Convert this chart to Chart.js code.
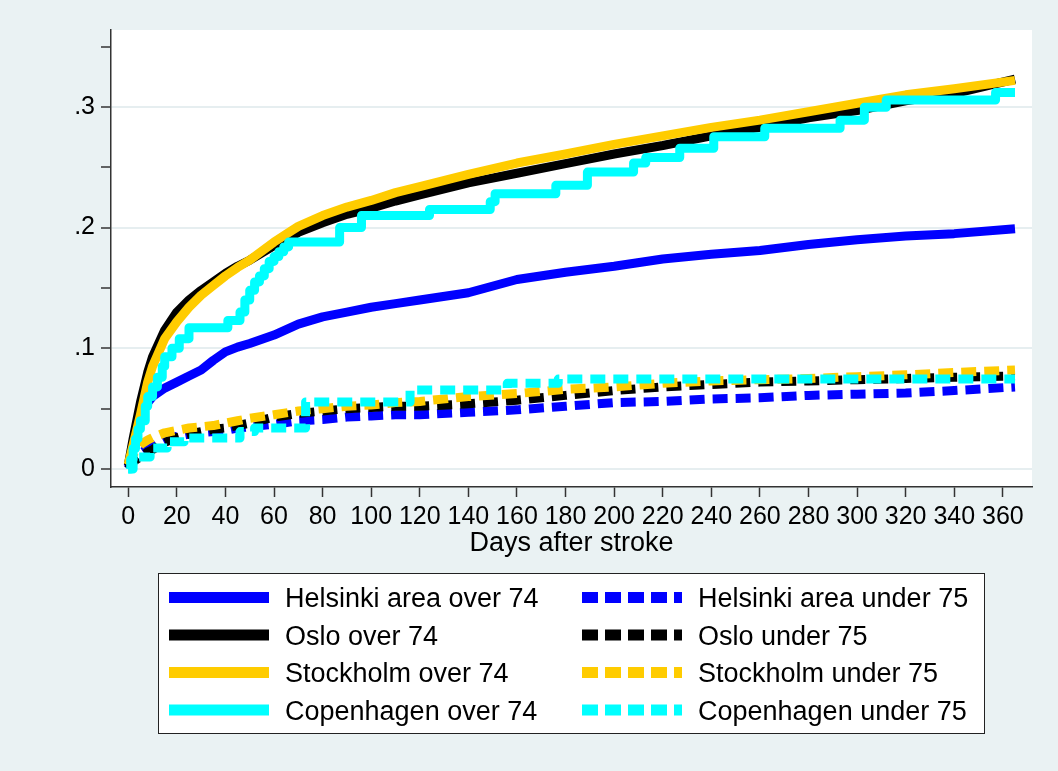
<!DOCTYPE html>
<html>
<head>
<meta charset="utf-8">
<title>Cumulative incidence after stroke</title>
<script src="https://cdn.jsdelivr.net/npm/chart.js@4/dist/chart.umd.min.js"></script>
<style>
  html, body { margin: 0; padding: 0; background: #EAF2F3; }
  canvas { display: block; }
</style>
</head>
<body>
<canvas id="chart" width="1058" height="771"></canvas>
<script>
// Days at which the smooth curves are sampled
const dayGrid = [0, 2, 5, 8, 10, 15, 20, 25, 30, 35, 40, 45, 50, 60, 70, 80, 90, 100, 110, 120,
  140, 160, 180, 200, 220, 240, 260, 280, 300, 320, 340, 365];

const helsinkiOver = [0.002, 0.02, 0.042, 0.055, 0.06, 0.067, 0.072, 0.077, 0.082, 0.09, 0.097, 0.101,
  0.104, 0.111, 0.12, 0.126, 0.13, 0.134, 0.137, 0.14, 0.146, 0.157, 0.163, 0.168, 0.174, 0.178,
  0.181, 0.186, 0.19, 0.193, 0.195, 0.199];
const osloOver = [0.003, 0.025, 0.055, 0.08, 0.093, 0.115, 0.13, 0.14, 0.148, 0.155, 0.162, 0.168,
  0.173, 0.185, 0.196, 0.204, 0.211, 0.216, 0.222, 0.227, 0.237, 0.245, 0.253, 0.261, 0.268, 0.276,
  0.283, 0.291, 0.297, 0.305, 0.311, 0.323];
const stockholmOver = [0.004, 0.02, 0.045, 0.072, 0.085, 0.108, 0.122, 0.134, 0.144, 0.152, 0.16, 0.167,
  0.173, 0.188, 0.201, 0.21, 0.217, 0.2225, 0.229, 0.234, 0.244, 0.2535, 0.261, 0.269, 0.276, 0.283,
  0.289, 0.296, 0.303, 0.31, 0.315, 0.322];

const helsinkiUnder = [0, 0.007, 0.013, 0.017, 0.019, 0.024, 0.027, 0.029, 0.03, 0.031, 0.032, 0.034,
  0.035, 0.037, 0.04, 0.041, 0.043, 0.044, 0.045, 0.045, 0.047, 0.049, 0.052, 0.055, 0.056, 0.058,
  0.059, 0.061, 0.062, 0.063, 0.065, 0.068];
const osloUnder = [0, 0.006, 0.01, 0.014, 0.016, 0.022, 0.026, 0.029, 0.031, 0.033, 0.034, 0.036,
  0.038, 0.043, 0.046, 0.048, 0.05, 0.051, 0.052, 0.052, 0.054, 0.057, 0.061, 0.065, 0.068, 0.07,
  0.072, 0.073, 0.074, 0.075, 0.076, 0.077];
const stockholmUnder = [0.003, 0.012, 0.02, 0.024, 0.026, 0.03, 0.032, 0.034, 0.035, 0.036, 0.038, 0.04,
  0.042, 0.045, 0.048, 0.05, 0.052, 0.053, 0.055, 0.056, 0.06, 0.0625, 0.066, 0.068, 0.071, 0.073,
  0.074, 0.075, 0.0765, 0.078, 0.08, 0.082];

// Copenhagen curves are step functions (event day, new cumulative value)
const copenhagenOverDays = [0, 1, 2, 3, 4, 5, 7, 8, 10, 12, 14, 15, 18, 21, 25, 41, 46, 48, 50, 52,
  54, 56, 58, 60, 62, 64, 66, 87, 96, 124, 149, 151, 176, 189, 208, 213, 227, 241, 262, 293,
  303, 312, 357, 365];
const copenhagenOver = [0, 0.008, 0.017, 0.025, 0.033, 0.04, 0.052, 0.06, 0.068, 0.076, 0.085, 0.093,
  0.1, 0.108, 0.117, 0.123, 0.13, 0.14, 0.148, 0.155, 0.16, 0.166, 0.172, 0.176, 0.18, 0.184, 0.188,
  0.2, 0.21, 0.215, 0.2215, 0.228, 0.235, 0.246, 0.2535, 0.258, 0.2657, 0.2753, 0.2823, 0.289,
  0.2997, 0.3057, 0.312, 0.312];
const copenhagenUnderDays = [0, 2, 4, 9, 16, 23, 46, 52, 73, 116, 156, 177, 365];
const copenhagenUnder = [0, 0.005, 0.01, 0.0174, 0.0226, 0.0257, 0.031, 0.034, 0.0555, 0.0655, 0.071,
  0.0745, 0.0745];

// Axis ticks
const dayTicks = [0, 20, 40, 60, 80, 100, 120, 140, 160, 180, 200, 220, 240, 260, 280, 300, 320, 340, 360];
const yTickValues = [0, 0.05, 0.1, 0.15, 0.2, 0.25, 0.3, 0.35];
const yTickLabels = ['0', '', '.1', '', '.2', '', '.3', ''];

const FONT = '"Liberation Sans", Arial, Helvetica, sans-serif';
const BLUE = '#0000FF', BLACK = '#000000', GOLD = '#FFCC00', CYAN = '#00FFFF';
const DASH = [15, 8];

function points(xs, ys) {
  return xs.map((x, i) => ({ x: x, y: ys[i] }));
}

// Light background around the white plot region
const backdrop = {
  id: 'backdrop',
  beforeDraw(chart) {
    const { ctx, chartArea: a } = chart;
    ctx.save();
    ctx.fillStyle = '#EAF2F3';
    ctx.fillRect(0, 0, chart.width, chart.height);
    ctx.fillStyle = '#FFFFFF';
    ctx.fillRect(a.left, a.top, a.right - a.left, a.bottom - a.top);
    ctx.restore();
  }
};

// Boxed legend in two columns, filled row by row
const twoColumnLegend = {
  id: 'twoColumnLegend',
  afterDraw(chart) {
    const ctx = chart.ctx;
    const box = { x: 158, y: 573, w: 827, h: 161 };
    const cols = [{ sx: 169, tx: 285 }, { sx: 582, tx: 698 }];
    const rowY = [597.5, 635, 672.5, 710];
    ctx.save();
    ctx.fillStyle = '#FFFFFF';
    ctx.fillRect(box.x, box.y, box.w, box.h);
    ctx.strokeStyle = '#222';
    ctx.lineWidth = 1;
    ctx.strokeRect(box.x + 0.5, box.y + 0.5, box.w - 1, box.h - 1);
    chart.data.datasets.forEach((ds, i) => {
      const col = cols[i % 2];
      const y = rowY[Math.floor(i / 2)];
      ctx.beginPath();
      ctx.setLineDash(ds.borderDash ? [16, 7] : []);
      ctx.lineCap = 'butt';
      ctx.strokeStyle = ds.borderColor;
      ctx.lineWidth = 11;
      ctx.moveTo(col.sx, y);
      ctx.lineTo(col.sx + 100, y);
      ctx.stroke();
      ctx.setLineDash([]);
      ctx.fillStyle = '#000';
      ctx.font = '27px ' + FONT;
      ctx.textBaseline = 'alphabetic';
      ctx.textAlign = 'left';
      ctx.fillText(ds.label, col.tx, y + 9.8);
    });
    ctx.restore();
  }
};

const series = [
  { label: 'Helsinki area over 74', data: points(dayGrid, helsinkiOver), borderColor: BLUE },
  { label: 'Helsinki area under 75', data: points(dayGrid, helsinkiUnder), borderColor: BLUE, borderDash: DASH },
  { label: 'Oslo over 74', data: points(dayGrid, osloOver), borderColor: BLACK },
  { label: 'Oslo under 75', data: points(dayGrid, osloUnder), borderColor: BLACK, borderDash: DASH },
  { label: 'Stockholm over 74', data: points(dayGrid, stockholmOver), borderColor: GOLD },
  { label: 'Stockholm under 75', data: points(dayGrid, stockholmUnder), borderColor: GOLD, borderDash: DASH },
  { label: 'Copenhagen over 74', data: points(copenhagenOverDays, copenhagenOver), borderColor: CYAN, stepped: 'before' },
  { label: 'Copenhagen under 75', data: points(copenhagenUnderDays, copenhagenUnder), borderColor: CYAN, stepped: 'before', borderDash: DASH }
].map((d, i, arr) => Object.assign({
  order: arr.length - i,           // later series are painted on top
  borderWidth: 9,
  pointRadius: 0,
  fill: false,
  tension: 0,
  borderJoinStyle: 'round',
  borderCapStyle: 'butt'
}, d));

new Chart(document.getElementById('chart'), {
  type: 'line',
  data: { datasets: series },
  plugins: [backdrop, twoColumnLegend],
  options: {
    responsive: false,
    animation: false,
    devicePixelRatio: 1,
    layout: { padding: { left: 0, top: 30, right: 26, bottom: 204 } },
    plugins: {
      legend: { display: false },
      tooltip: { enabled: false }
    },
    scales: {
      x: {
        type: 'linear',
        min: -7.1,
        max: 372,
        afterBuildTicks: s => { s.ticks = dayTicks.map(v => ({ value: v })); },
        afterFit: s => { s.height = 80; },
        grid: { drawOnChartArea: false, tickLength: 10, tickColor: '#333', tickWidth: 1.5 },
        border: { color: '#333', width: 1.5 },
        ticks: {
          autoSkip: false, maxRotation: 0, minRotation: 0, padding: 5, color: '#000',
          font: { family: FONT, size: 25 },
          callback: v => String(v)
        },
        title: {
          display: true, text: 'Days after stroke', color: '#000',
          font: { family: FONT, size: 27 },
          padding: { top: 0, bottom: 7 }
        }
      },
      y: {
        type: 'linear',
        min: -0.0149,
        max: 0.3637,
        afterBuildTicks: s => { s.ticks = yTickValues.map(v => ({ value: v })); },
        afterFit: s => { s.width = 111; },
        grid: {
          color: c => (yTickLabels[c.index] ? '#E6EEF0' : 'rgba(0,0,0,0)'),
          lineWidth: 2,
          tickLength: 10,
          tickColor: '#333',
          tickWidth: 1.5
        },
        border: { color: '#333', width: 1.5 },
        ticks: {
          padding: 6, color: '#000', autoSkip: false,
          font: { family: FONT, size: 25 },
          callback: (v, i) => yTickLabels[i]
        }
      }
    }
  }
});
</script>
</body>
</html>
